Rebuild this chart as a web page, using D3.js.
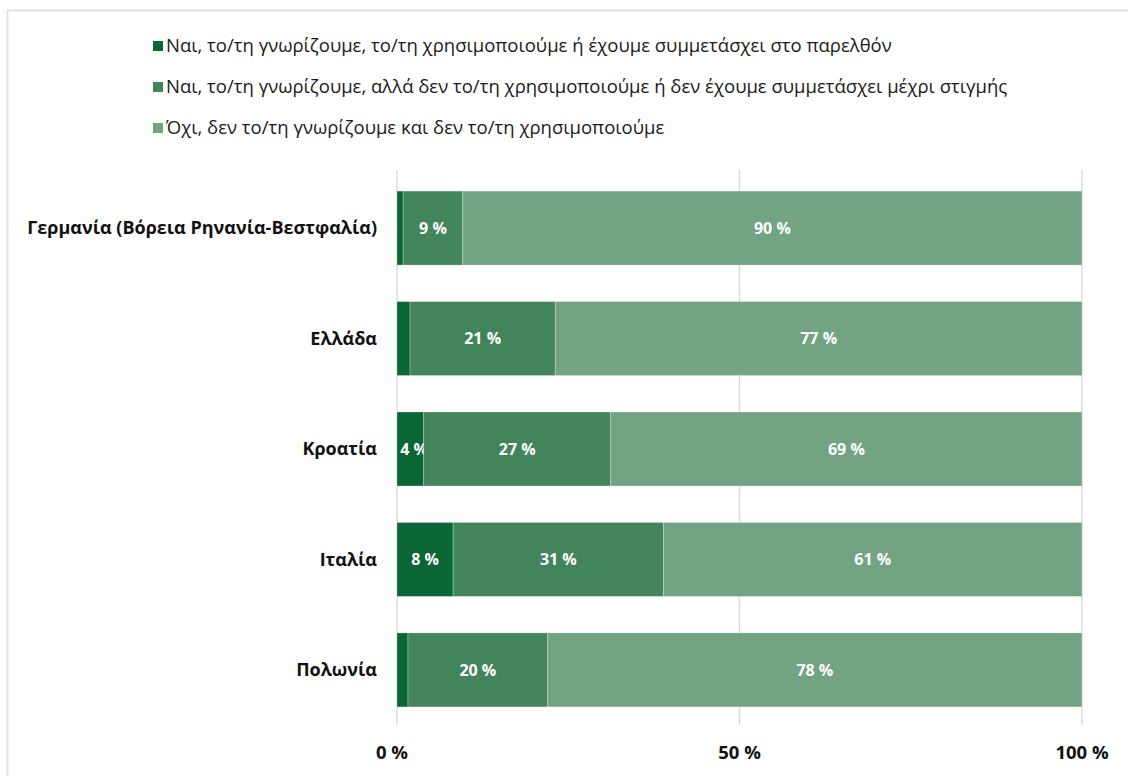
<!DOCTYPE html>
<html>
<head>
<meta charset="utf-8">
<script src="https://cdn.jsdelivr.net/npm/d3@7"></script>
<style>
  body { margin: 0; background: #fff; }
  text { font-family: "Open Sans", "Noto Sans", sans-serif; }
</style>
</head>
<body>
<svg id="chart" width="1128" height="776"></svg>
<script>
const countries = ["Γερμανία (Βόρεια Ρηνανία-Βεστφαλία)", "Ελλάδα", "Κροατία", "Ιταλία", "Πολωνία"];
const seriesNames = [
  "Ναι, το/τη γνωρίζουμε, το/τη χρησιμοποιούμε ή έχουμε συμμετάσχει στο παρελθόν",
  "Ναι, το/τη γνωρίζουμε, αλλά δεν το/τη χρησιμοποιούμε ή δεν έχουμε συμμετάσχει μέχρι στιγμής",
  "Όχι, δεν το/τη γνωρίζουμε και δεν το/τη χρησιμοποιούμε"
];
const usedValues = [0.9, 1.9, 3.9, 8.2, 1.6];
const knownValues = [8.7, 21.2, 27.3, 30.7, 20.4];
const unknownValues = [90.4, 76.9, 68.8, 61.1, 78.0];
const ticks = [0, 50, 100];
const colors = ["#0b6635", "#43855a", "#72a483"];

const width = 1128, height = 776;
const svg = d3.select("#chart");

// frame
svg.append("rect")
  .attr("x", 7.5).attr("y", 10.5)
  .attr("width", width).attr("height", height)
  .attr("fill", "none").attr("stroke", "#e2e2e2").attr("stroke-width", 2);

const x = d3.scaleLinear([0, 100], [397, 1082]);
const y = d3.scaleBand(countries, [169, 729]).paddingInner(0.33).paddingOuter(0.2);

const rows = countries.map((c, i) => ({country: c, s0: usedValues[i], s1: knownValues[i], s2: unknownValues[i]}));
const stack = d3.stack().keys(["s0", "s1", "s2"])(rows);

// grid
svg.append("g").selectAll("line").data(ticks).join("line")
  .attr("x1", d => x(d)).attr("x2", d => x(d))
  .attr("y1", 170).attr("y2", 725)
  .attr("stroke", "#dcdcdc").attr("stroke-width", 1.5);

// bars
const layers = svg.append("g").selectAll("g").data(stack).join("g")
  .attr("fill", (d, i) => colors[i]);
layers.selectAll("rect").data(d => d).join("rect")
  .attr("x", d => x(d[0]))
  .attr("width", d => x(d[1]) - x(d[0]))
  .attr("y", d => y(d.data.country))
  .attr("height", y.bandwidth())
  .attr("stroke", "rgba(255,255,255,0.35)").attr("stroke-width", 0.8);

layers.selectAll("text").data(d => d.filter(v => v[1] - v[0] >= 3)).join("text")
  .attr("x", d => Math.max(x((d[0] + d[1]) / 2), x(d[0]) + 17))
  .attr("y", d => y(d.data.country) + y.bandwidth() / 2)
  .attr("dy", "0.35em")
  .attr("text-anchor", "middle")
  .attr("fill", "#fff").attr("font-weight", "bold").attr("font-size", 16)
  .text(d => Math.round(d[1] - d[0]) + " %");

// category axis labels
svg.append("g").selectAll("text").data(countries).join("text")
  .attr("x", 377)
  .attr("y", d => y(d) + y.bandwidth() / 2)
  .attr("dy", "0.35em")
  .attr("text-anchor", "end")
  .attr("font-weight", "bold").attr("font-size", 18).attr("fill", "#111")
  .text(d => d);

// x axis labels
svg.append("g").selectAll("text").data(ticks).join("text")
  .attr("x", d => x(d) - (d === 0 ? 5 : 0))
  .attr("y", 753)
  .attr("dy", "0.35em")
  .attr("text-anchor", "middle")
  .attr("font-weight", "bold").attr("font-size", 18.5).attr("fill", "#111")
  .text(d => d + " %");

// legend
const legend = svg.append("g").selectAll("g").data(seriesNames).join("g")
  .attr("transform", (d, i) => `translate(153, ${46 + i * 41})`);
legend.append("rect")
  .attr("x", 0).attr("y", -5).attr("width", 10).attr("height", 10)
  .attr("fill", (d, i) => colors[i]);
legend.append("text")
  .attr("x", 13).attr("dy", "0.35em")
  .attr("font-size", 18.5).attr("fill", "#1a1a1a")
  .text(d => d);
</script>
</body>
</html>
